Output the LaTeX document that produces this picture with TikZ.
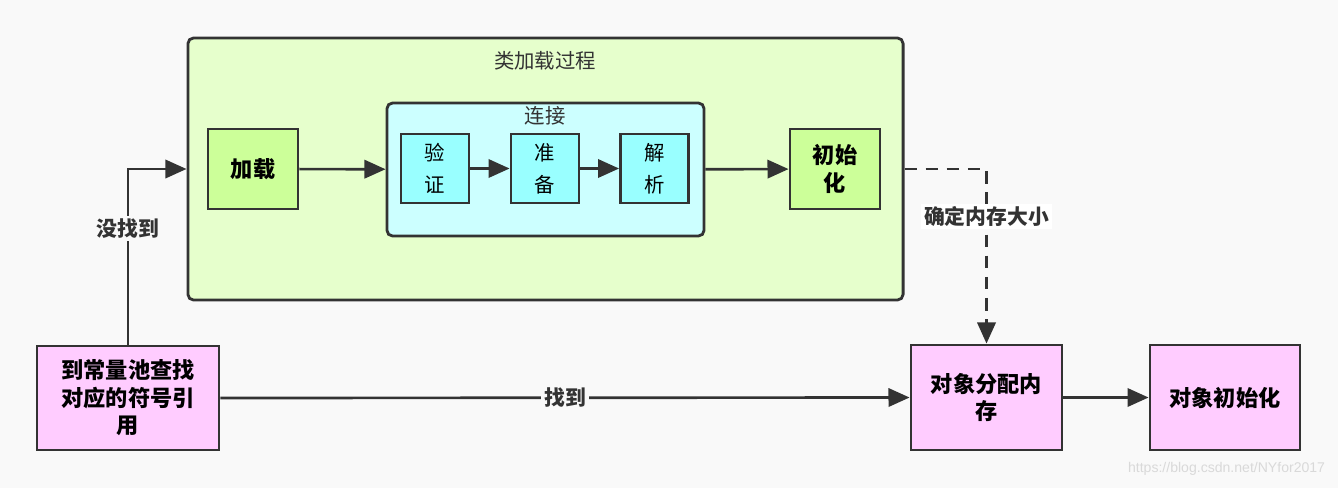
\documentclass[tikz,border=0pt]{standalone}
\usepackage{fontspec}
\setmainfont{Noto Sans CJK SC}
\newfontfamily\markfont{Liberation Sans}
\usetikzlibrary{arrows.meta}
\definecolor{bgcol}{HTML}{F9F9F9}
\definecolor{edgecol}{HTML}{333333}
\definecolor{outercol}{HTML}{E6FFCC}
\definecolor{greencol}{HTML}{CCFF99}
\definecolor{linkcol}{HTML}{CCFFFF}
\definecolor{stepcol}{HTML}{99FFFF}
\definecolor{pinkcol}{HTML}{FFCCFF}
\tikzset{
  box/.style={draw=edgecol, line width=2pt, align=center, inner sep=0pt},
  boldbox/.style={box, font=\fontsize{15.8}{19.5}\selectfont\bfseries},
  stepbox/.style={box, fill=stepcol, minimum width=1.7cm, minimum height=1.725cm, font=\fontsize{14.5}{23}\selectfont},
  line/.style={draw=edgecol, line width=1.9pt, -{Triangle[length=15pt, width=13pt]}},
  lbl/.style={fill=bgcol, inner sep=2pt, text=edgecol, font=\fontsize{14.8}{18}\selectfont\bfseries}
}
\begin{document}
\begin{tikzpicture}[x=0.025cm, y=-0.025cm]
\fill[bgcol] (0,0) rectangle (1338,488); % canvas
\node[box, rounded corners=4pt, fill=outercol, minimum width=17.875cm, minimum height=6.55cm] (outer) at (545.5,169) {}; % class loading
\node[text=edgecol, font=\fontsize{14.5}{18}\selectfont] (outertitle) at (545,61) {类加载过程};
\node[boldbox, fill=greencol, minimum width=2.25cm, minimum height=2cm] (load) at (253,169) {加载};
\node[box, rounded corners=4pt, fill=linkcol, minimum width=7.925cm, minimum height=3.325cm] (link) at (545.5,169.5) {}; % linking
\node[text=edgecol, font=\fontsize{14.5}{18}\selectfont] (linktitle) at (545,116) {连接};
\node[stepbox] (verify) at (435,168.5) {验\\证};
\node[stepbox] (prepare) at (545,168.5) {准\\备};
\node[stepbox] (resolve) at (654.5,168.5) {解\\析};
\node[boldbox, fill=greencol, minimum width=2.25cm, minimum height=2cm] (init) at (835,169) {初始\\化};
% bottom row
\node[boldbox, fill=pinkcol, minimum width=4.55cm, minimum height=2.6cm] (lookup) at (128,398) {到常量池查找\\对应的符号引\\用};
\node[boldbox, fill=pinkcol, minimum width=3.775cm, minimum height=2.625cm] (alloc) at (986.5,397.5) {对象分配内\\存};
\node[boldbox, fill=pinkcol, minimum width=3.75cm, minimum height=2.625cm] (objinit) at (1225,397.5) {对象初始化};
% arrows
\draw[line] (load) -- (link);
\draw[line] (verify) -- (prepare);
\draw[line] (prepare) -- (resolve);
\draw[line] (link) -- (init);
\draw[line] (lookup.north) |- node[lbl, pos=0.33] {没找到} (outer.west);
\draw[line] (lookup.east) -- node[lbl] {找到} (alloc.west);
\draw[line, dash pattern=on 9pt off 6pt] (outer.east) -| node[lbl, fill=white, pos=0.636] {确定内存大小} (alloc.north);
\draw[line] (alloc) -- (objinit);
\node[text=black!15, font=\markfont\fontsize{10}{12}\selectfont, anchor=east] (mark) at (1330,469) {https://blog.csdn.net/NYfor2017};
\end{tikzpicture}
\end{document}
